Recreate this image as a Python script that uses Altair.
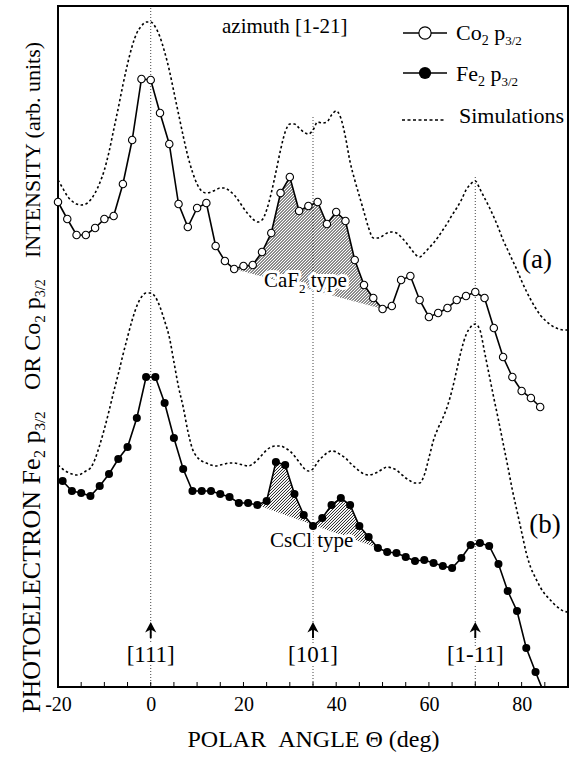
import altair as alt
import numpy as np
import pandas as pd

FONT = "Liberation Serif"
X_MIN, X_MAX = -20, 90
Y_MIN, Y_MAX = 0, 681
W, H = 510, 681

# ---------------- data ----------------
co_deg = list(range(-20, 85, 2))
co_val = [485, 468, 452, 452, 459, 468, 471, 503, 547, 608,
          607, 574, 543, 483, 460, 479, 484, 441, 426, 418,
          421, 422, 435, 454, 494, 510, 476, 481, 485, 463,
          475, 466, 427, 402, 389, 378, 381, 407, 411, 387,
          370, 374, 379, 387, 391, 395, 389, 359, 330, 310,
          296, 289, 280]

fe_deg = list(range(-19, 86, 2))
fe_val = [206, 196, 194, 191, 201, 213, 228, 240, 269, 310,
          310, 284, 249, 218, 196, 196, 196, 193, 190, 184,
          184, 182, 186, 225, 222, 193, 172, 161, 169, 182,
          189, 182, 161, 150, 139, 135, 134, 130, 126, 127,
          124, 121, 119, 129, 142, 144, 141, 123, 96, 76,
          39, 15, -8]

sim_deg = list(range(-20, 91))
sim_a = [507, 499, 491, 486, 483, 482, 483, 487, 494, 504,
         517, 535, 557, 579, 602, 623, 641, 654, 661, 665,
         665, 660, 650, 635, 617, 595, 573, 551, 531, 515,
         503, 496, 494, 495, 497, 499, 499, 496, 492, 486,
         479, 473, 468, 465, 467, 477, 494, 515, 537, 555,
         563, 563, 559, 555, 553, 557, 565, 564, 565, 572,
         576, 569, 550, 525, 507, 491, 475, 459, 449, 449,
         451, 454, 455, 454, 450, 445, 439, 433, 430, 434,
         439, 444, 450, 457, 464, 472, 479, 487, 497, 503,
         506, 498, 489, 480, 470, 459, 447, 437, 427, 417,
         406, 396, 387, 379, 372, 367, 363, 360, 358, 357, 357]
sim_b = [222, 218, 215, 213, 212, 213, 216, 219, 228, 242,
         258, 276, 295, 313, 332, 350, 367, 381, 390, 394,
         394, 390, 380, 366, 350, 325, 300, 280, 256, 238,
         230, 226, 224, 222, 221, 222, 223, 224, 224, 223,
         222, 221, 223, 227, 232, 237, 240, 241, 241, 239,
         236, 231, 225, 219, 216, 218, 225, 230, 234, 236,
         235, 232, 229, 224, 220, 216, 213, 212, 213, 215,
         218, 220, 219, 217, 213, 209, 206, 204, 204, 212,
         229, 247, 259, 269, 281, 297, 317, 337, 352, 360,
         363, 357, 335, 312, 289, 267, 244, 221, 197, 176,
         155, 134, 119, 109, 100, 93, 88, 83, 79, 76, 75]

ref_deg = [0, 35, 70]
ref_top = [679, 570, 510]
ref_label = ["[111]", "[101]", "[1-11]"]

xtick_vals = list(range(-20, 91, 5))
xlabel_vals = list(range(-20, 81, 20))

caf2_range = [18, 50]
cscl_range = [23, 49]

# ---------------- helpers ----------------
TW = {' ': 250, '(': 333, ')': 333, '.': 250, '/': 278, '-': 333, '[': 333, ']': 333,
      'A': 722, 'B': 667, 'C': 667, 'D': 722, 'E': 611, 'F': 556, 'G': 722, 'H': 722,
      'I': 333, 'L': 611, 'N': 722, 'O': 722, 'P': 556, 'R': 667, 'S': 556, 'T': 611,
      'Y': 722, 'a': 444, 'b': 500, 'c': 444, 'd': 500, 'e': 444, 'g': 500, 'h': 500,
      'i': 278, 'l': 278, 'm': 778, 'n': 500, 'o': 500, 'p': 500, 'r': 333, 's': 389,
      't': 278, 'u': 500, 'y': 500, 'z': 444}


def tw(s, size):
    return sum(TW.get(c, 500) for c in s) * size / 1000.0


one = pd.DataFrame({"k": [0]})


def txt(s, x, y, size, align="left", angle=0, halo=False):
    out = []
    base = dict(text=s, font=FONT, fontSize=size, align=align, baseline="alphabetic", angle=angle)
    if halo:
        out.append(alt.Chart(one).mark_text(color="white", stroke="white", strokeWidth=6,
                                            strokeJoin="round", **base)
                   .encode(x=alt.value(x), y=alt.value(y)))
    out.append(alt.Chart(one).mark_text(color="black", **base).encode(x=alt.value(x), y=alt.value(y)))
    return out


def run(pieces, x0, y0, angle=0, halo=False):
    out = []
    pos = 0.0
    for s, size, shift in pieces:
        lead = len(s) - len(s.lstrip(" "))
        pos += tw(" " * lead, size)
        s2 = s.lstrip(" ")
        if angle == 0:
            out += txt(s2, x0 + pos, y0 + shift, size, halo=halo)
        else:
            out += txt(s2, x0 + shift, y0 - pos, size, angle=angle, halo=halo)
        pos += tw(s2, size)
    return out


def hatch_rows(xd, yv, d0, d1, step):
    xs = np.asarray(xd, float)
    ys = np.asarray(yv, float)
    g = np.linspace(d0, d1, 3201)
    top = np.interp(g, xs, ys)
    y0, y1 = np.interp(d0, xs, ys), np.interp(d1, xs, ys)
    bot = y0 + (y1 - y0) * (g - d0) / (d1 - d0)
    sx = W / (X_MAX - X_MIN)
    sy = H / (Y_MAX - Y_MIN)
    px = (g - X_MIN) * sx
    lo = (bot * sy - px).min()
    hi = (top * sy - px).max()
    rows = []
    for k in np.arange(lo, hi, step):
        lv = (px + k) / sy
        ins = (lv >= bot) & (lv <= top)
        idx = np.flatnonzero(np.diff(np.concatenate([[0], ins.astype(int), [0]])))
        for a, b in zip(idx[::2], idx[1::2] - 1):
            if b > a:
                rows.append(dict(deg=g[a], v=lv[a], deg2=g[b], v2=lv[b]))
    return pd.DataFrame(rows)


# ---------------- encodings ----------------
xscale = alt.Scale(domain=[X_MIN, X_MAX], nice=False, zero=False)
yscale = alt.Scale(domain=[Y_MIN, Y_MAX], nice=False, zero=False)
xaxis = alt.Axis(values=xlabel_vals, title="POLAR \u00a0ANGLE \u0398 (deg)",
                 labelExpr="datum.value < 0 ? '-' + abs(datum.value) : '' + datum.value",
                 labelFont=FONT, labelFontSize=20, labelColor="black", labelFlush=False,
                 labelOverlap=False, labelPadding=7,
                 titleFont=FONT, titleFontSize=24, titleFontWeight="normal", titleColor="black",
                 titlePadding=13, ticks=False, domain=False, grid=False)


def X(f="deg"):
    return alt.X(f"{f}:Q", scale=xscale, axis=xaxis)


def Y(f="v"):
    return alt.Y(f"{f}:Q", scale=yscale, axis=None)


co_df = pd.DataFrame({"deg": co_deg, "v": co_val})
fe_df = pd.DataFrame({"deg": fe_deg, "v": fe_val})
sa_df = pd.DataFrame({"deg": sim_deg, "v": sim_a})
sb_df = pd.DataFrame({"deg": sim_deg, "v": sim_b})
ref_df = pd.DataFrame({"deg": ref_deg, "v": ref_top, "label": ref_label})
tick_df = pd.DataFrame({"deg": xtick_vals})
h1 = hatch_rows(co_deg, co_val, caf2_range[0], caf2_range[1], 3.0)
h2 = hatch_rows(fe_deg, fe_val, cscl_range[0], cscl_range[1], 3.0)

layers = []
# guide lines
layers.append(alt.Chart(ref_df).mark_rule(color="#444", strokeWidth=1, strokeDash=[1, 2])
              .encode(x=X(), y=Y(), y2=alt.value(H)))
# x ticks (inside)
layers.append(alt.Chart(tick_df).mark_rule(color="black", strokeWidth=1)
              .encode(x=X(), y=alt.value(H), y2=alt.value(H - 5)))
# hatching
for hd in (h1, h2):
    layers.append(alt.Chart(hd).mark_rule(color="black", strokeWidth=0.9)
                  .encode(x=X(), y=Y(), x2="deg2:Q", y2="v2:Q"))
# simulations
for sd in (sa_df, sb_df):
    layers.append(alt.Chart(sd).mark_line(color="black", strokeWidth=1.6, strokeDash=[2.5, 2.5],
                                          interpolate="monotone")
                  .encode(x=X(), y=Y()))
# data
layers.append(alt.Chart(co_df).mark_line(color="black", strokeWidth=1.6).encode(x=X(), y=Y()))
layers.append(alt.Chart(fe_df).mark_line(color="black", strokeWidth=1.6, clip=True).encode(x=X(), y=Y()))
layers.append(alt.Chart(co_df).mark_circle(size=55, color="white", stroke="black", strokeWidth=1.1, opacity=1)
              .encode(x=X(), y=Y()))
layers.append(alt.Chart(fe_df).mark_circle(size=65, color="black", opacity=1, clip=True)
              .encode(x=X(), y=Y()))

# arrows and direction labels
arrow = "M0,-1L0.7,0.3L0.12,0.0L0.12,1L-0.12,1L-0.12,0.0L-0.7,0.3Z"
layers.append(alt.Chart(ref_df).mark_point(shape=arrow, filled=True, size=256, color="black", opacity=1)
              .encode(x=X(), y=alt.value(624)))
layers.append(alt.Chart(ref_df).mark_text(font=FONT, fontSize=23, align="center", baseline="alphabetic",
                                          color="white", stroke="white", strokeWidth=6)
              .encode(x=X(), y=alt.value(656), text="label:N"))
layers.append(alt.Chart(ref_df).mark_text(font=FONT, fontSize=23, align="center", baseline="alphabetic",
                                          color="black")
              .encode(x=X(), y=alt.value(656), text="label:N"))

# annotations
layers += txt("azimuth [1-21]", 164, 27, 21)
layers += txt("(a)", 479, 262, 27, align="center")
layers += txt("(b)", 487, 527, 27, align="center")
layers += run([("CaF", 21, 0), ("2", 13, 6), (" type", 21, 0)], 206, 281, halo=True)
layers += txt("CsCl type", 212, 541, 21, halo=True)

# legend
layers.append(alt.Chart(one).mark_rule(color="black", strokeWidth=1.6)
              .encode(x=alt.value(345), x2=alt.value(389), y=alt.value(27)))
layers.append(alt.Chart(one).mark_circle(size=150, color="white", stroke="black", strokeWidth=1.2, opacity=1)
              .encode(x=alt.value(367), y=alt.value(27)))
layers.append(alt.Chart(one).mark_rule(color="black", strokeWidth=1.6)
              .encode(x=alt.value(345), x2=alt.value(389), y=alt.value(67)))
layers.append(alt.Chart(one).mark_circle(size=150, color="black", opacity=1)
              .encode(x=alt.value(367), y=alt.value(67)))
layers.append(alt.Chart(one).mark_rule(color="black", strokeWidth=1.6, strokeDash=[3, 2.5])
              .encode(x=alt.value(344), x2=alt.value(387), y=alt.value(114)))
layers += run([("Co", 22, 0), ("2", 14, 5), (" p", 22, 0), ("3/2", 13, 5)], 398, 34)
layers += run([("Fe", 22, 0), ("2", 14, 5), (" p", 22, 0), ("3/2", 13, 5)], 398, 75)
layers += txt("Simulations", 401, 117, 22)

# y title (rotated, three runs)
layers += run([("PHOTOELECTRON Fe", 26, 0), ("2", 16, 5), (" p", 26, 0), ("3/2", 15, 5)],
              -18, 707, angle=270)
layers += run([("OR Co", 24, 0), ("2", 15, 5), (" p", 24, 0), ("3/2", 14, 5)],
              -18, 384, angle=270)
layers += run([("INTENSITY (arb. units)", 22, 0)], -18, 252, angle=270)

chart = alt.layer(*layers).properties(
    width=W, height=H,
    padding={"left": 58, "top": 6, "right": 3, "bottom": 71},
    autosize=alt.AutoSizeParams(type="none"),
    background="white",
).configure_view(stroke="black", strokeWidth=2)

chart.save("out.html", embed_options={"renderer": "svg", "actions": False})
